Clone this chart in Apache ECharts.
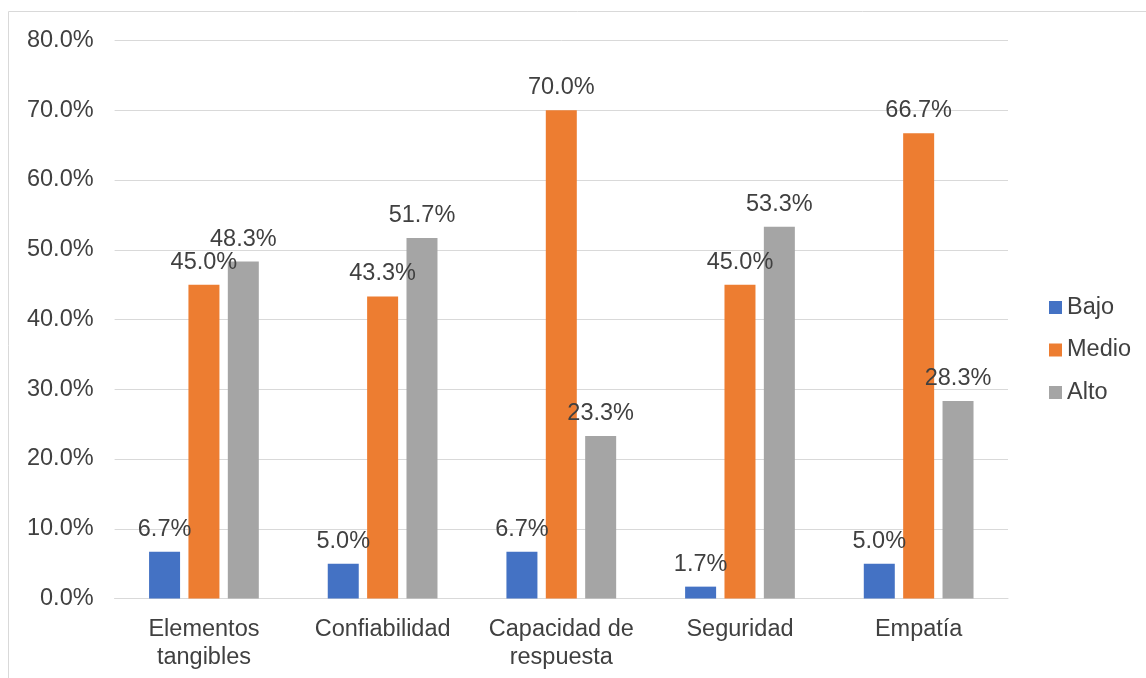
<!DOCTYPE html>
<html>
<head>
<meta charset="utf-8">
<script src="https://cdn.jsdelivr.net/npm/echarts@6/dist/echarts.min.js"></script>
<style>
html,body{margin:0;padding:0;background:#fff;}
#chart{width:1146px;height:678px;}
</style>
</head>
<body>
<div id="chart"></div>
<script>
var categories = ['Elementos\ntangibles', 'Confiabilidad', 'Capacidad de\nrespuesta', 'Seguridad', 'Empatía'];
var bajo = [6.7, 5.0, 6.7, 1.7, 5.0];
var medio = [45.0, 43.3, 70.0, 45.0, 66.7];
var alto = [48.3, 51.7, 23.3, 53.3, 28.3];
var seriesNames = ['Bajo', 'Medio', 'Alto'];
var colors = ['#4472C4', '#ED7D31', '#A5A5A5'];

var font = '"Liberation Sans", Arial, sans-serif';
var textColor = '#404040';
var fs = 23.5;

function mk(name, data, color) {
  return {
    name: name,
    type: 'bar',
    data: data,
    barWidth: 31,
    barGap: '27%',
    itemStyle: { color: color },
    label: {
      show: true,
      position: 'top',
      distance: 10.5,
      fontSize: fs,
      fontFamily: font,
      color: textColor,
      formatter: function (p) { return p.value.toFixed(1) + '%'; }
    },
    emphasis: { disabled: true }
  };
}

var chart = echarts.init(document.getElementById('chart'));
chart.setOption({
  animation: false,
  color: colors,
  graphic: [{
    type: 'rect',
    shape: { x: 8.5, y: 11.5, width: 1300, height: 800 },
    style: { fill: 'none', stroke: '#D9D9D9', lineWidth: 1 },
    silent: true,
    z: -1
  }],
  grid: { left: 114.6, right: 138, top: 40.5, bottom: 79.5, containLabel: false },
  legend: {
    orient: 'vertical',
    left: 1049,
    top: 295.5,
    padding: 0,
    itemWidth: 13,
    itemHeight: 13,
    itemGap: 18.5,
    icon: 'rect',
    data: seriesNames,
    textStyle: { fontSize: fs, fontFamily: font, color: textColor, lineHeight: 23.5 }
  },
  xAxis: {
    type: 'category',
    data: categories,
    axisLine: { lineStyle: { color: '#D9D9D9', width: 1 } },
    axisTick: { show: false },
    axisLabel: { fontSize: fs, fontFamily: font, color: textColor, lineHeight: 28, margin: 17, interval: 0 }
  },
  yAxis: {
    type: 'value',
    min: 0,
    max: 80,
    interval: 10,
    axisLine: { show: false },
    axisTick: { show: false },
    splitLine: { lineStyle: { color: '#D9D9D9', width: 1 } },
    axisLabel: {
      fontSize: fs, fontFamily: font, color: textColor, margin: 21,
      formatter: function (v) { return v.toFixed(1) + '%'; }
    }
  },
  series: [mk(seriesNames[0], bajo, colors[0]), mk(seriesNames[1], medio, colors[1]), mk(seriesNames[2], alto, colors[2])]
});
</script>
</body>
</html>
